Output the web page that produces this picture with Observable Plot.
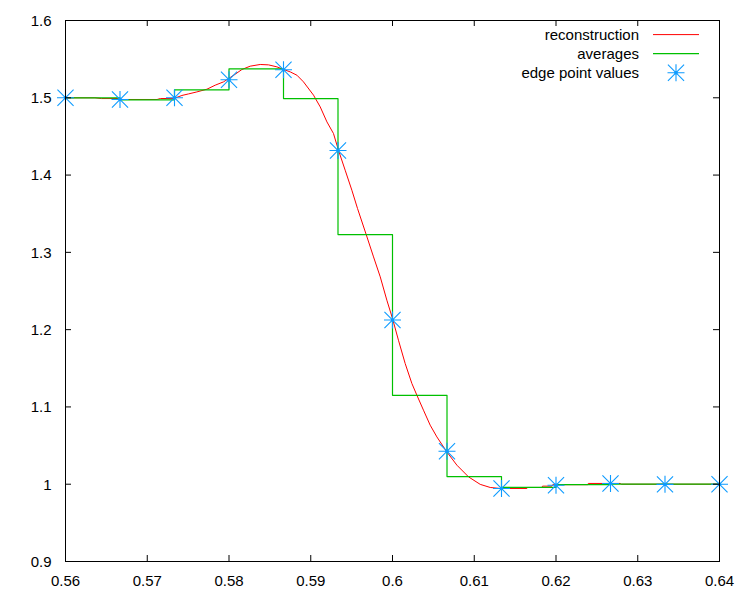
<!DOCTYPE html>
<html><head><meta charset="utf-8">
<script src="https://cdn.jsdelivr.net/npm/d3@7"></script>
<script src="https://cdn.jsdelivr.net/npm/@observablehq/plot@0.6"></script>
<style>html,body{margin:0;padding:0;background:#fff;}</style>
</head><body><div id="chart"></div>
<script>
// ---- data ----
const xTicks = [0.56, 0.57, 0.58, 0.59, 0.6, 0.61, 0.62, 0.63, 0.64];
const yTicks = [0.9, 1, 1.1, 1.2, 1.3, 1.4, 1.5, 1.6];
const cellEdges = [0.56, 0.566667, 0.573333, 0.58, 0.586667, 0.593333, 0.6, 0.606667, 0.613333, 0.62, 0.626667, 0.633333, 0.64];
const cellAverages = [1.5000, 1.4974, 1.5103, 1.5375, 1.4990, 1.3230, 1.1150, 1.0099, 0.9958, 0.9995, 1.0000, 1.0000];
const edgeValues = [1.5000, 1.4978, 1.5000, 1.5233, 1.5362, 1.4318, 1.2125, 1.0426, 0.9945, 0.9986, 1.0009, 0.9998, 1.0000];
const reconX = [0.5600, 0.5636, 0.5644, 0.5664, 0.5670, 0.5712, 0.5716, 0.5733,
  0.57424, 0.57505, 0.57607, 0.57730, 0.57831, 0.57933, 0.58015, 0.58076, 0.58158, 0.58259,
  0.58382, 0.58483, 0.58586, 0.58659, 0.58749, 0.58831, 0.58911, 0.59034, 0.59116, 0.59198,
  0.59278, 0.59339, 0.59421, 0.59503, 0.59572, 0.59678, 0.59768, 0.59850, 0.59931, 0.60000,
  0.60073, 0.60155, 0.60237, 0.60298, 0.60379, 0.60461, 0.60543, 0.60665, 0.60788, 0.60930,
  0.61073, 0.61195, 0.61317, 0.61644, 0.61650, 0.61828, 0.61835, 0.61950, 0.61960, 0.62390,
  0.62395, 0.62785, 0.62800, 0.64000];
const reconY = [1.5000, 1.5000, 1.4990, 1.4990, 1.4978, 1.4978, 1.4990, 1.4992,
  1.5030, 1.5050, 1.5076, 1.5111, 1.5163, 1.5206, 1.5263, 1.5305, 1.5366, 1.5409,
  1.5431, 1.5426, 1.5400, 1.5370, 1.5335, 1.5292, 1.5206, 1.5034, 1.4882, 1.4688,
  1.4538, 1.4322, 1.4063, 1.3804, 1.3568, 1.3231, 1.2941, 1.2683, 1.2381, 1.2144,
  1.1863, 1.1562, 1.1303, 1.1152, 1.0958, 1.0764, 1.0612, 1.0418, 1.0246, 1.0095,
  0.9998, 0.9958, 0.9945, 0.9945, 0.9958, 0.9958, 0.9975, 0.9975, 0.9994, 0.9994,
  1.0010, 1.0010, 1.0000, 1.0000];
const seriesNames = ["reconstruction", "averages", "edge point values"];
const seriesColors = ["#ff0000", "#00c000", "#0d9bff"];

// ---- layout ----
const W = 750, H = 600, mL = 65, mR = 31, mT = 20, mB = 39;
const plotW = W - mL - mR, plotH = H - mT - mB;

const recon = reconX.map((x, i) => ({x, y: reconY[i]}));
const steps = cellEdges.map((x, i) => ({x, y: cellAverages[Math.min(i, cellAverages.length - 1)]}));
const edges = cellEdges.map((x, i) => ({x, y: edgeValues[i]}));

// gnuplot-style asterisk (+ and x overlaid)
const star = {
  draw(ctx, size) {
    const r = Math.sqrt(size / Math.PI);
    const d = r * 0.95;
    ctx.moveTo(-r, 0); ctx.lineTo(r, 0);
    ctx.moveTo(0, -r); ctx.lineTo(0, r);
    ctx.moveTo(-d, -d); ctx.lineTo(d, d);
    ctx.moveTo(-d, d); ctx.lineTo(d, -d);
  }
};
const starR = 8.5;

const chart = Plot.plot({
  width: W, height: H,
  marginLeft: mL, marginRight: mR, marginTop: mT, marginBottom: mB,
  style: {fontFamily: "'Liberation Sans', Arial, sans-serif", fontSize: "15px", color: "#000", background: "#fff"},
  x: {domain: [0.56, 0.64], label: null},
  y: {domain: [0.9, 1.6], label: null},
  marks: [
    Plot.line(recon, {x: "x", y: "y", stroke: seriesColors[0], strokeWidth: 1}),
    Plot.line(steps, {x: "x", y: "y", curve: "step-after", stroke: seriesColors[1], strokeWidth: 1.2}),
    Plot.dot(edges, {x: "x", y: "y", r: starR, symbol: star, stroke: seriesColors[2], strokeWidth: 1.1, fill: "none"}),
    Plot.dot(edges, {x: "x", y: "y", r: 1.7, fill: seriesColors[2], stroke: "none"}),
    Plot.tickX(xTicks, {insetTop: plotH - 6, stroke: "#000"}),
    Plot.tickX(xTicks, {insetBottom: plotH - 6, stroke: "#000"}),
    Plot.tickY(yTicks, {insetRight: plotW - 6, stroke: "#000"}),
    Plot.tickY(yTicks, {insetLeft: plotW - 6, stroke: "#000"}),
    Plot.frame({stroke: "#000"}),
    Plot.axisX({ticks: xTicks, tickSize: 0, tickPadding: 14, tickFormat: d => String(d), fill: "#000", label: null}),
    Plot.axisY({ticks: yTicks, tickSize: 0, tickPadding: 14, tickFormat: d => String(d), fill: "#000", dy: 0.5, label: null})
  ]
});

// ---- legend (inside top-right, gnuplot style) ----
const svg = d3.select(chart);
const legendTextX = 639, sampleX1 = 653, sampleX2 = 699, rowY0 = 34.6, rowGap = 19.1;
const lg = svg.append("g").attr("font-family", "'Liberation Sans', Arial, sans-serif").attr("font-size", 15);
seriesNames.forEach((name, i) => {
  const yy = rowY0 + i * rowGap;
  lg.append("text").attr("x", legendTextX).attr("y", yy).attr("dy", "0.35em")
    .attr("text-anchor", "end").attr("fill", "#000").text(name);
  if (i < 2) {
    lg.append("line").attr("x1", sampleX1).attr("x2", sampleX2).attr("y1", yy).attr("y2", yy)
      .attr("stroke", seriesColors[i]).attr("stroke-width", i === 1 ? 1.2 : 1);
  } else {
    const cx = (sampleX1 + sampleX2) / 2;
    lg.append("path").attr("transform", `translate(${cx},${yy})`)
      .attr("d", d3.symbol().type(star).size(Math.PI * starR * starR)())
      .attr("stroke", seriesColors[i]).attr("stroke-width", 1.1).attr("fill", "none");
    lg.append("circle").attr("cx", cx).attr("cy", yy).attr("r", 1.7).attr("fill", seriesColors[i]);
  }
});

document.getElementById("chart").appendChild(chart);
</script>
</body></html>
